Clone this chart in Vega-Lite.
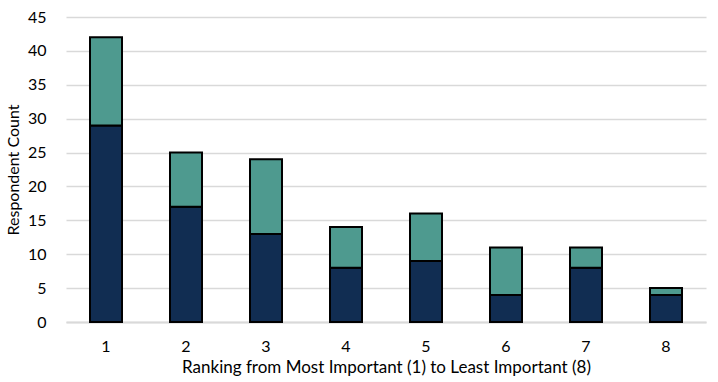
{
  "$schema": "https://vega.github.io/schema/vega-lite/v6.json",
  "width": 640,
  "height": 305,
  "autosize": {"type": "none"},
  "padding": {"left": 66, "top": 17, "right": 12, "bottom": 60},
  "background": "white",
  "data": {
    "values": [
      {"rank": "1", "series": "A", "count": 29}, {"rank": "1", "series": "B", "count": 13},
      {"rank": "2", "series": "A", "count": 17}, {"rank": "2", "series": "B", "count": 8},
      {"rank": "3", "series": "A", "count": 13}, {"rank": "3", "series": "B", "count": 11},
      {"rank": "4", "series": "A", "count": 8}, {"rank": "4", "series": "B", "count": 6},
      {"rank": "5", "series": "A", "count": 9}, {"rank": "5", "series": "B", "count": 7},
      {"rank": "6", "series": "A", "count": 4}, {"rank": "6", "series": "B", "count": 7},
      {"rank": "7", "series": "A", "count": 8}, {"rank": "7", "series": "B", "count": 3},
      {"rank": "8", "series": "A", "count": 4}, {"rank": "8", "series": "B", "count": 1}
    ]
  },
  "mark": {"type": "bar", "stroke": "black", "strokeWidth": 2},
  "encoding": {
    "x": {
      "field": "rank", "type": "ordinal",
      "scale": {"paddingInner": 0.6, "paddingOuter": 0.3},
      "axis": {
        "title": "Ranking from Most Important (1) to Least Important (8)",
        "labelAngle": 0, "ticks": false, "labelPadding": 16,
        "labelFont": "Lato", "labelFontSize": 16, "labelColor": "#000",
        "titleFont": "Lato", "titleFontSize": 17, "titleFontWeight": "normal", "titleColor": "#000", "titlePadding": 5,
        "domainColor": "#d9d9d9", "domainWidth": 2
      }
    },
    "y": {
      "field": "count", "type": "quantitative", "stack": "zero",
      "scale": {"domain": [0, 45]},
      "axis": {
        "title": "Respondent Count", "values": [0,5,10,15,20,25,30,35,40,45],
        "domain": false, "ticks": false, "labelPadding": 20,
        "labelFont": "Lato", "labelFontSize": 16, "labelColor": "#000",
        "titleFont": "Lato", "titleFontSize": 16, "titleFontWeight": "normal", "titleColor": "#000", "titlePadding": 6,
        "gridColor": "#d9d9d9", "gridWidth": 1.5
      }
    },
    "color": {
      "field": "series", "type": "nominal",
      "scale": {"domain": ["A", "B"], "range": ["#112d52", "#4e9a8f"]},
      "legend": null
    },
    "order": {"field": "series", "sort": "ascending"}
  },
  "config": {"view": {"stroke": null}}
}
